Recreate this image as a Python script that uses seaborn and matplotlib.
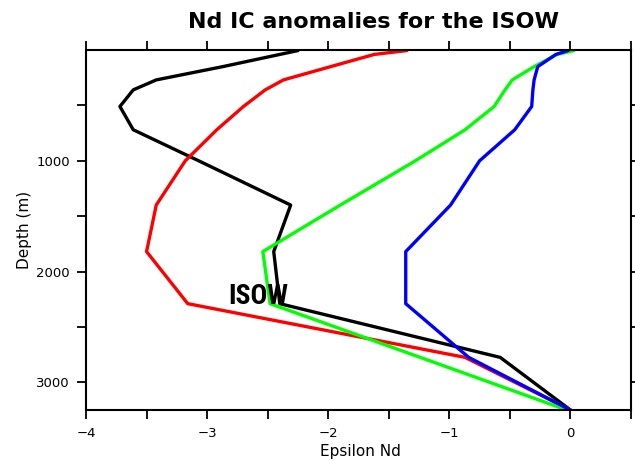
import numpy as np
import pandas as pd
import matplotlib
matplotlib.use("Agg")
import matplotlib.pyplot as plt
import seaborn as sns
from matplotlib.ticker import FixedLocator
from matplotlib import font_manager

# ---- data ----
depth = [5, 40, 150, 270, 360, 510, 720, 1000, 1400, 1820, 2290, 2775, 3250]
black_eps = [-2.25, -2.40, -2.87, -3.42, -3.61, -3.72, -3.61, -3.07, -2.31, -2.45, -2.40, -0.58, 0.0]
red_eps = [-1.35, -1.62, -1.98, -2.37, -2.52, -2.70, -2.92, -3.18, -3.42, -3.50, -3.16, -0.87, 0.0]
green_eps = [0.03, -0.11, -0.30, -0.48, -0.54, -0.63, -0.87, -1.28, -1.90, -2.54, -2.48, -1.24, -0.03]
blue_eps = [-0.02, -0.12, -0.27, -0.30, -0.31, -0.32, -0.46, -0.75, -0.99, -1.36, -1.36, -0.84, 0.0]

series_names = ["black", "red", "green", "blue"]
series_values = [black_eps, red_eps, green_eps, blue_eps]
series_colors = ["#000000", "#ff0000", "#00ff00", "#0000ff"]

x_major = [-4, -3, -2, -1, 0]
x_minor = [-3.5, -2.5, -1.5, -0.5, 0.5]
y_major = [1000, 2000, 3000]
y_minor = [500, 1500, 2500]

title = "Nd IC anomalies for the ISOW"
label_text = "ISOW"

frames = []
for name, vals in zip(series_names, series_values):
    frames.append(pd.DataFrame({"series": name, "depth": depth, "eps": vals}))
df = pd.concat(frames, ignore_index=True)

sns.set_theme(style="white")
plt.rcParams["font.family"] = ["DejaVu Sans"]
plt.rcParams["axes.unicode_minus"] = True
plt.rcParams["text.color"] = "black"

available = {f.name for f in font_manager.fontManager.ttflist}
narrow = "DejaVu Sans"
for cand in ["Liberation Sans Narrow", "DejaVu Sans Condensed", "Roboto Condensed",
             "Open Sans Condensed", "Noto Sans Condensed"]:
    if cand in available:
        narrow = cand
        break

W, H = 635, 461
fig = plt.figure(figsize=(W / 100, H / 100), dpi=100)
L, R, T, B = 86, 631, 50, 410
ax = fig.add_axes([L / W, 1 - B / H, (R - L) / W, (B - T) / H])

sns.lineplot(data=df, x="eps", y="depth", hue="series", hue_order=series_names,
             palette=dict(zip(series_names, series_colors)), sort=False,
             estimator=None, linewidth=2.4, legend=False, ax=ax)

ax.set_xlim(-4, 0.5)
ax.set_ylim(3250, 0)

ax.xaxis.set_major_locator(FixedLocator(x_major))
ax.xaxis.set_minor_locator(FixedLocator(x_minor))
ax.yaxis.set_major_locator(FixedLocator(y_major))
ax.yaxis.set_minor_locator(FixedLocator(y_minor))
ax.set_xticklabels([f"{v:d}".replace("-", "\u2212") for v in x_major])
ax.set_yticklabels([str(v) for v in y_major])

for sp in ax.spines.values():
    sp.set_visible(True)
    sp.set_color("black")
    sp.set_linewidth(1.5)

ax.tick_params(which="both", direction="out", length=6.5, width=1.3, color="black",
               top=True, right=True, bottom=True, left=True,
               labeltop=False, labelright=False, labelsize=9.5, labelcolor="black")
ax.tick_params(axis="x", which="both", pad=6)
ax.tick_params(axis="y", which="both", pad=5)

ax.set_xlabel("")
ax.set_ylabel("")
fig.text(25 / W, 1 - 230 / H, "Depth (m)", rotation=90, ha="center", va="center",
         fontsize=11, color="black")
fig.text(360 / W, 1 - 456 / H, "Epsilon Nd", ha="center", va="baseline", fontsize=11,
         color="black")

fig.text(374 / W, 1 - 28 / H, title, ha="center", va="baseline", fontsize=16,
         fontweight="bold", color="black")

ax.text(-2.58, 2297, label_text, ha="center", va="baseline", fontsize=20,
        fontweight="bold", family=[narrow, "DejaVu Sans"], color="black")

fig.savefig("out.png", dpi=100)
